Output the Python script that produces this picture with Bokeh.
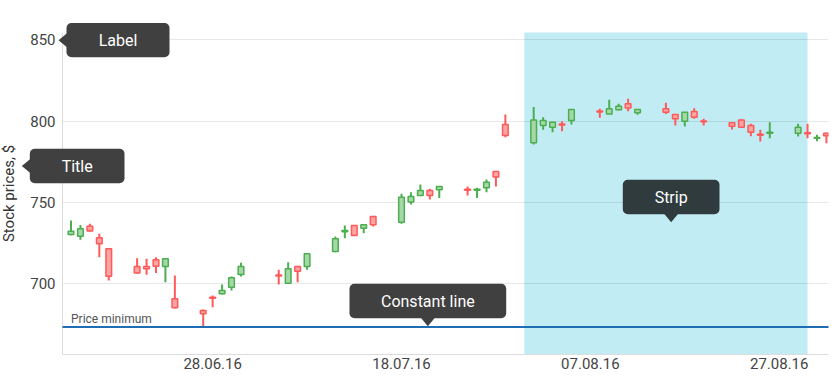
from datetime import datetime
from bokeh.plotting import figure
from bokeh.models import (Range1d, FixedTicker, DatetimeTickFormatter, BoxAnnotation,
                          PolyAnnotation, Label, ColumnDataSource)
from bokeh.embed import file_html
from bokeh.resources import INLINE

# ---------------- data ----------------
dates = ["2016-06-13", "2016-06-14", "2016-06-15", "2016-06-16", "2016-06-17",
         "2016-06-20", "2016-06-21", "2016-06-22", "2016-06-23", "2016-06-24",
         "2016-06-27", "2016-06-28", "2016-06-29", "2016-06-30", "2016-07-01",
         "2016-07-05", "2016-07-06", "2016-07-07", "2016-07-08",
         "2016-07-11", "2016-07-12", "2016-07-13", "2016-07-14", "2016-07-15",
         "2016-07-18", "2016-07-19", "2016-07-20", "2016-07-21", "2016-07-22",
         "2016-07-25", "2016-07-26", "2016-07-27", "2016-07-28", "2016-07-29",
         "2016-08-01", "2016-08-02", "2016-08-03", "2016-08-04", "2016-08-05",
         "2016-08-08", "2016-08-09", "2016-08-10", "2016-08-11", "2016-08-12",
         "2016-08-15", "2016-08-16", "2016-08-17", "2016-08-18", "2016-08-19",
         "2016-08-22", "2016-08-23", "2016-08-24", "2016-08-25", "2016-08-26",
         "2016-08-29", "2016-08-30", "2016-08-31", "2016-09-01"]
open_p = [730.0, 729.0, 735.1, 728.0, 721.2,
          710.3, 710.3, 714.4, 710.3, 690.4,
          683.2, 691.3, 693.5, 697.5, 705.4,
          705.0, 700.0, 710.3, 710.3,
          719.5, 731.7, 735.6, 733.9, 741.1,
          737.6, 750.0, 754.1, 757.2, 757.6,
          757.9, 757.3, 758.8, 768.9, 797.8,
          786.6, 797.2, 796.2, 798.2, 800.3,
          806.2, 804.4, 806.9, 810.6, 805.1,
          807.5, 804.0, 799.9, 805.9, 800.0,
          798.9, 800.7, 797.2, 791.8, 792.5,
          792.5, 792.8, 789.4, 792.5]
high_p = [738.7, 735.8, 736.6, 730.5, 721.5,
          715.4, 715.0, 716.0, 715.3, 704.7,
          683.8, 692.4, 699.2, 704.1, 712.6,
          708.3, 712.9, 710.6, 718.4,
          728.8, 735.6, 735.9, 736.3, 741.4,
          755.1, 756.1, 760.9, 758.2, 759.8,
          759.6, 758.8, 763.9, 769.2, 804.1,
          808.6, 802.3, 799.6, 799.9, 807.4,
          807.5, 813.1, 810.6, 813.7, 807.3,
          811.2, 804.3, 805.6, 807.9, 801.4,
          799.2, 801.0, 798.3, 794.6, 799.3,
          798.3, 798.3, 791.5, 792.7]
low_p = [729.5, 726.8, 731.8, 716.0, 701.7,
         706.0, 705.2, 706.2, 700.6, 684.5,
         672.9, 685.2, 693.0, 695.5, 704.1,
         699.2, 699.5, 700.6, 708.3,
         719.0, 727.7, 729.1, 730.8, 735.0,
         736.6, 748.5, 754.0, 751.6, 752.6,
         754.1, 752.6, 756.1, 759.6, 790.0,
         785.5, 794.6, 793.1, 793.7, 797.8,
         802.0, 804.2, 806.7, 806.0, 803.8,
         804.4, 797.2, 796.6, 801.4, 797.2,
         794.8, 796.0, 790.6, 787.4, 789.4,
         790.4, 789.4, 787.5, 786.3]
close_p = [732.0, 733.5, 732.1, 724.3, 704.3,
           706.2, 708.9, 710.5, 715.0, 684.8,
           681.1, 690.7, 695.5, 703.3, 710.3,
           704.4, 708.9, 707.4, 718.1,
           727.4, 732.5, 729.4, 736.0, 736.0,
           753.0, 753.5, 757.2, 754.1, 759.6,
           757.3, 757.9, 762.3, 765.4, 791.1,
           800.7, 800.3, 799.3, 797.5, 807.1,
           805.6, 807.5, 809.1, 808.1, 807.1,
           805.4, 801.4, 805.4, 802.3, 799.5,
           796.8, 796.2, 793.1, 791.2, 793.1,
           796.2, 792.2, 789.9, 790.9]

x_tick_dates = ["2016-06-28", "2016-07-18", "2016-08-07", "2016-08-27"]
y_ticks = [700, 750, 800, 850]
strip_start, strip_end = "2016-07-31", "2016-08-30"
axis_title = "Stock prices, $"
const_label = "Price minimum"

# ---------------- helpers ----------------
DAY = 86400000.0
EPOCH = datetime(1970, 1, 1)


def ms(s):
    return (datetime.strptime(s, "%Y-%m-%d") - EPOCH).total_seconds() * 1000.0


# visible plotting area (pixels) and its value range
X0 = ms("2016-06-12") + 0.10 * DAY
X1 = ms("2016-09-01") + 0.22 * DAY
Y0, Y1 = 656.0, 854.6
FL, FR, FT, FB = 62, 828, 32, 354
W, H = 835, 383
UNITS_PER_PX = (Y1 - Y0) / (FB - FT)


def xd(px):
    return X0 + (px - FL) / (FR - FL) * (X1 - X0)


def yd(py):
    return Y0 + (FB - py) / (FB - FT) * (Y1 - Y0)


xs = [ms(d) for d in dates]
up = [c >= o for o, c in zip(open_p, close_p)]
src = ColumnDataSource(dict(
    x=xs, high=high_p, low=low_p,
    top=[max(o, c) for o, c in zip(open_p, close_p)],
    bottom=[min(o, c) for o, c in zip(open_p, close_p)],
    line=["#4cae50" if u else "#ff5a5a" for u in up],
    fill=["#a6d8a7" if u else "#ffa3a3" for u in up],
))

# the frame covers the whole canvas except the x-axis band and a thin right margin,
# so that annotations may reach into the margins without being clipped
p = figure(width=W, height=H, x_axis_type="datetime",
           x_range=Range1d(xd(0), xd(FR)), y_range=Range1d(yd(FB), yd(0)),
           output_backend="svg", toolbar_location=None,
           min_border_left=0, min_border_right=W - FR,
           min_border_top=0, min_border_bottom=H - FB)
p.outline_line_color = None
p.background_fill_color = "white"
p.border_fill_color = "white"

# strip
strip = BoxAnnotation(left=ms(strip_start), right=ms(strip_end), top=Y1,
                      fill_color="#c2ecf3", fill_alpha=1.0, line_color=None,
                      level="underlay")
# white mask left of the plotting area (hides the grid there)
mask = BoxAnnotation(left=xd(-20), right=X0, top=yd(-20), bottom=yd(H + 20),
                     fill_color="white", fill_alpha=1.0, line_color=None,
                     level="underlay")
for a in (strip, mask):
    p.add_layout(a)
grids = [r for r in p.center if r not in (strip, mask)]
p.center = [strip] + grids + [mask]

# constant line at the lowest price (2 px thick band)
price_min = min(low_p)
p.add_layout(BoxAnnotation(left=X0, right=xd(FR + 5),
                           top=price_min + UNITS_PER_PX, bottom=price_min - UNITS_PER_PX,
                           fill_color="#1f6db3", fill_alpha=1.0, line_color=None))

# axes
p.xgrid.visible = False
p.ygrid.ticker = FixedTicker(ticks=y_ticks)
p.ygrid.grid_line_color = "#000000"
p.ygrid.grid_line_alpha = 0.09

p.yaxis.ticker = FixedTicker(ticks=y_ticks)
p.yaxis.fixed_location = X0
p.yaxis.bounds = (Y0, Y1)
p.xaxis.ticker = FixedTicker(ticks=[ms(d) for d in x_tick_dates])
p.xaxis.bounds = (X0, X1)
p.xaxis.formatter = DatetimeTickFormatter(days="%d.%m.%y", months="%d.%m.%y",
                                          hours="%d.%m.%y")
for ax in (p.xaxis, p.yaxis):
    ax.axis_line_color = "#dcdcdc"
    ax.major_tick_line_color = None
    ax.minor_tick_line_color = None
    ax.major_tick_out = 0
    ax.major_tick_in = 0
    ax.major_label_text_font = "Roboto"
    ax.major_label_text_font_size = "15px"
    ax.major_label_text_color = "#444444"
p.xaxis.major_label_standoff = 3
p.yaxis.major_label_standoff = 7
p.yaxis.axis_label = axis_title
p.yaxis.axis_label_text_font = "Roboto"
p.yaxis.axis_label_text_font_size = "15px"
p.yaxis.axis_label_text_font_style = "normal"
p.yaxis.axis_label_text_color = "#333333"
p.yaxis.axis_label_standoff = 9

# candles
bw = 0.6 * DAY
p.segment(x0="x", y0="high", x1="x", y1="low", source=src, line_color="line",
          line_width=2)
p.vbar(x="x", width=bw, top="top", bottom="bottom", source=src,
       fill_color="fill", line_color="line", line_width=1.5)

p.add_layout(Label(x=xd(70.5), y=yd(318.3), text=const_label, text_font="Roboto",
                   text_font_size="12px", text_color="#555555",
                   text_baseline="alphabetic", text_align="left"))

# callout annotations: (text, left, top, right, bottom, arrow side, colour)
DARK_W = "#404040"
notes = [
    ("Label", 66, 22.5, 169, 56.8, "left", DARK_W),
    ("Title", 29.3, 148.3, 124, 182.7, "left", DARK_W),
    ("Strip", 622.3, 179.3, 719, 213.7, "down", "#303b3d"),
    ("Constant line", 349, 283.3, 505.7, 317.7, "down", DARK_W),
]
for text, l, t, r, b, side, col in notes:
    p.add_layout(BoxAnnotation(left=xd(l), right=xd(r), top=yd(t), bottom=yd(b),
                               fill_color=col, fill_alpha=1.0, line_color=None,
                               border_radius=5, level="overlay"))
    cx, cy = (l + r) / 2, (t + b) / 2
    if side == "left":
        tx = [l + 0.5, l - 8, l + 0.5]
        ty = [cy - 7, cy, cy + 7]
    else:
        tx = [cx - 7, cx, cx + 7]
        ty = [b - 0.5, b + 8, b - 0.5]
    p.add_layout(PolyAnnotation(xs=[xd(v) for v in tx], ys=[yd(v) for v in ty],
                                fill_color=col, fill_alpha=1.0, line_color=None,
                                level="overlay"))
    p.add_layout(Label(x=xd(cx), y=yd(cy), text=text, text_align="center",
                       text_baseline="middle", text_color="white",
                       text_font="Roboto", text_font_size="16px", level="overlay"))

open("out.html", "w").write(file_html(p, INLINE))
